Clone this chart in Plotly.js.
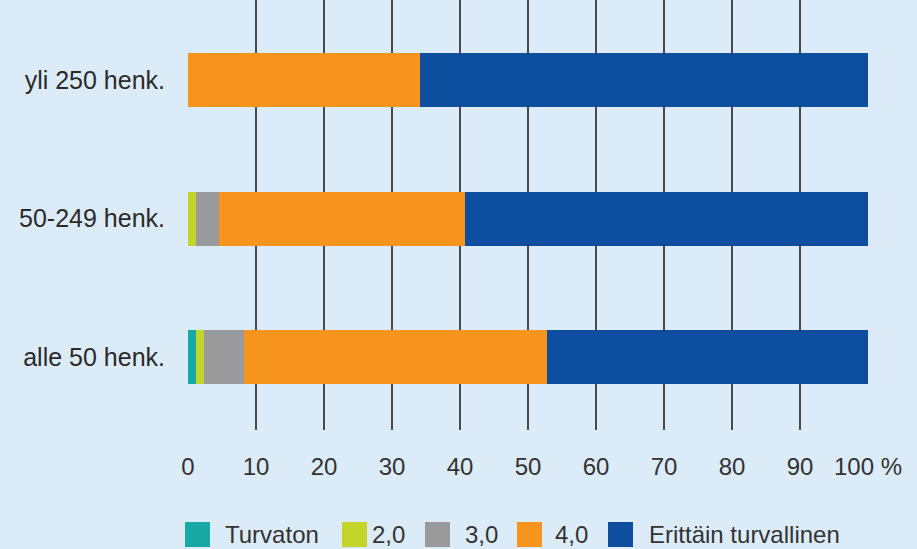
<!DOCTYPE html>
<html><head><meta charset="utf-8">
<script src="https://cdn.plot.ly/plotly-3.0.1.min.js"></script>
<style>html,body{margin:0;padding:0;background:#dcebf8;}#chart{width:917px;height:549px;}</style>
</head><body><div id="chart"></div>
<script>
const categories = ["alle 50 henk.", "50-249 henk.", "yli 250 henk."];
const seriesNames = ["Turvaton", "2,0", "3,0", "4,0", "Erittäin turvallinen"];
const turvaton = [1.2, 0, 0];
const v2 = [1.1, 1.2, 0];
const v3 = [6.0, 3.4, 0];
const v4 = [44.5, 36.1, 34.1];
const erittain = [47.2, 59.3, 65.9];
const xTickVals = [0,10,20,30,40,50,60,70,80,90,100];
const xTickText = ["0","10","20","30","40","50","60","70","80","90","100 %"];
const colors = ["#17aaa5", "#c3d52b", "#9a9a9c", "#f7941e", "#0d4f9e"];
const seriesVals = [turvaton, v2, v3, v4, erittain];

const FONT = "'Liberation Sans', Arial, Helvetica, sans-serif";
const W = 917, H = 549;
const M = {l: 188, r: 49, t: 0, b: 119};
const plotW = W - M.l - M.r, plotH = H - M.t - M.b;
// legend layout (pixel positions of the custom legend entries)
const legSquareX = [185, 342, 425, 517, 608];
const legTextX = [223, 370, 463, 553, 647];
const legTop = 522, legSize = 25, legTextY = 534;
const px2x = p => (p - M.l) / plotW;
const px2y = p => (H - M.b - p) / plotH;

const traces = seriesVals.map((vals, i) => ({
  type: "bar", orientation: "h",
  x: vals, y: categories, name: seriesNames[i],
  marker: {color: colors[i], line: {width: 0}},
  width: 0.39, hoverinfo: "x+name", showlegend: false
}));

const shapes = seriesNames.map((n, i) => ({
  type: "rect", xref: "paper", yref: "paper",
  x0: px2x(legSquareX[i]), x1: px2x(legSquareX[i] + legSize),
  y0: px2y(legTop + legSize), y1: px2y(legTop),
  fillcolor: colors[i], line: {width: 0}
}));
const annotations = seriesNames.map((n, i) => ({
  text: n, xref: "paper", yref: "paper",
  x: px2x(legTextX[i]), y: px2y(legTextY),
  xanchor: "left", yanchor: "middle", showarrow: false,
  font: {family: FONT, size: 24, color: "#333"}
}));

const layout = {
  width: W, height: H,
  paper_bgcolor: "#dcebf8", plot_bgcolor: "#dcebf8",
  barmode: "stack",
  margin: M,
  font: {family: FONT, size: 24, color: "#333"},
  xaxis: {
    range: [0, 100], tickvals: xTickVals, ticktext: xTickText,
    showgrid: true, gridcolor: "#4a4a4a", gridwidth: 2,
    zeroline: false, showline: false, ticks: "",
    ticklabelstandoff: 20, fixedrange: true,
    tickfont: {family: FONT, size: 24, color: "#333"}
  },
  yaxis: {
    type: "category", categoryorder: "array", categoryarray: categories,
    range: [-0.527, 2.578], showgrid: false, zeroline: false, showline: false,
    ticks: "", ticklabelstandoff: 22, tickfont: {family: FONT, size: 25, color: "#2a2a2a"}
  },
  showlegend: false,
  shapes: shapes,
  annotations: annotations
};
Plotly.newPlot("chart", traces, layout, {displayModeBar: false, staticPlot: true});
</script></body></html>
